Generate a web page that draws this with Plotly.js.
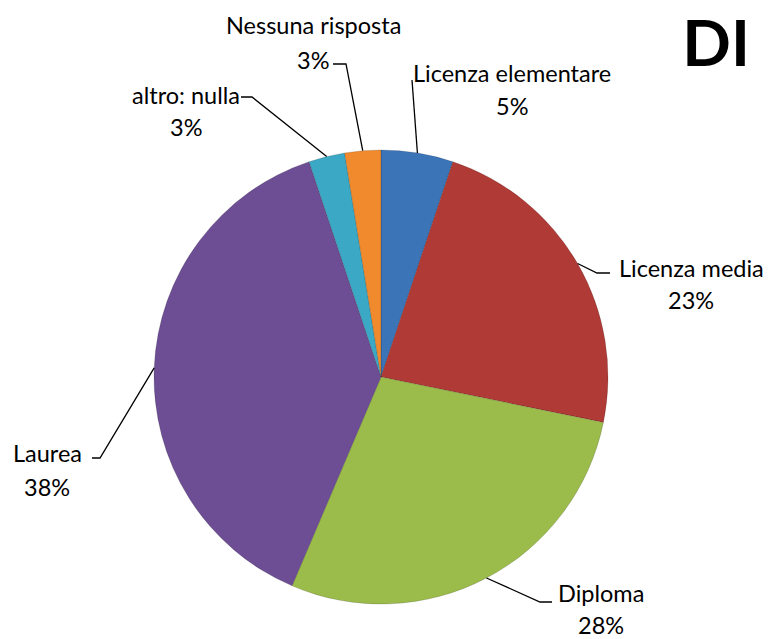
<!DOCTYPE html>
<html>
<head>
<meta charset="utf-8">
<script src="https://cdn.plot.ly/plotly-3.0.1.min.js"></script>
<style>
  html, body { margin: 0; padding: 0; background: #fff; }
  #chart { width: 770px; height: 639px; }
</style>
</head>
<body>
<div id="chart"></div>
<script>
// answers (counts), clockwise from 12 o'clock
var categories = ['Licenza elementare', 'Licenza media', 'Diploma', 'Laurea', 'altro: nulla', 'Nessuna risposta'];
var counts = [2, 9, 11, 15, 1, 1];
var colors = ['#3c74b8', '#b03a36', '#9bbb4b', '#6d4e94', '#3ba8c6', '#f08a2c'];

// pie geometry in page pixels
var W = 770, H = 639;
var cx = 381, cy = 377, R = 227;

// label placement: [text x, name line y, percent line y], leader elbow, leader end
var labelAt = [
    [512, 73, 106],
    [691, 268, 300],
    [601, 593, 625],
    [47, 453, 487],
    [186, 95, 127],
    [313, 25, 60]
];
var elbows = [[412, 80], [597, 273], [540, 602], [100, 458], [252, 97], [346, 64]];
var ends = [[412, 80], [610, 273], [552, 602], [92, 458], [241, 97], [333, 64]];

var total = counts.reduce(function (a, b) { return a + b; }, 0);

var pie = {
    type: 'pie',
    labels: categories,
    values: counts,
    sort: false,
    direction: 'clockwise',
    rotation: 0,
    textinfo: 'none',
    hoverinfo: 'label+percent',
    marker: { colors: colors, line: { color: 'rgba(0,0,0,0.25)', width: 0.6 } },
    domain: {
        x: [(cx - R) / W, (cx + R) / W],
        y: [1 - (cy + R) / H, 1 - (cy - R) / H]
    },
    showlegend: false
};

var shapes = [];
var annotations = [];
var cum = 0;
var font = { family: 'Lato, "Open Sans", sans-serif', size: 23.5, color: '#000' };
counts.forEach(function (v, i) {
    var mid = (cum + v / 2) / total * 2 * Math.PI;
    cum += v;
    var px = cx + R * Math.sin(mid);
    var py = cy - R * Math.cos(mid);
    shapes.push({
        type: 'path', xref: 'x', yref: 'y',
        path: 'M ' + px + ' ' + py + ' L ' + elbows[i][0] + ' ' + elbows[i][1] +
              ' L ' + ends[i][0] + ' ' + ends[i][1],
        line: { color: '#000', width: 1.3 }
    });
    annotations.push({
        x: labelAt[i][0], y: labelAt[i][1], xref: 'x', yref: 'y',
        text: categories[i], showarrow: false, font: font,
        xanchor: 'center', yanchor: 'middle'
    });
    annotations.push({
        x: labelAt[i][0], y: labelAt[i][2], xref: 'x', yref: 'y',
        text: Math.round(v / total * 100) + '%', showarrow: false, font: font,
        xanchor: 'center', yanchor: 'middle'
    });
});

var layout = {
    width: W,
    height: H,
    margin: { l: 0, r: 0, t: 0, b: 0 },
    paper_bgcolor: '#fff',
    plot_bgcolor: 'rgba(0,0,0,0)',
    title: {
        text: '<b>DI</b>',
        font: { family: 'Lato, "Open Sans", sans-serif', size: 64, color: '#000' },
        x: 0.974, xanchor: 'right', xref: 'paper',
        y: 0.932, yanchor: 'middle', yref: 'container'
    },
    xaxis: { range: [0, W], visible: false, fixedrange: true },
    yaxis: { range: [H, 0], visible: false, fixedrange: true },
    shapes: shapes,
    annotations: annotations
};

Plotly.newPlot('chart', [pie], layout, { displayModeBar: false });
</script>
</body>
</html>
